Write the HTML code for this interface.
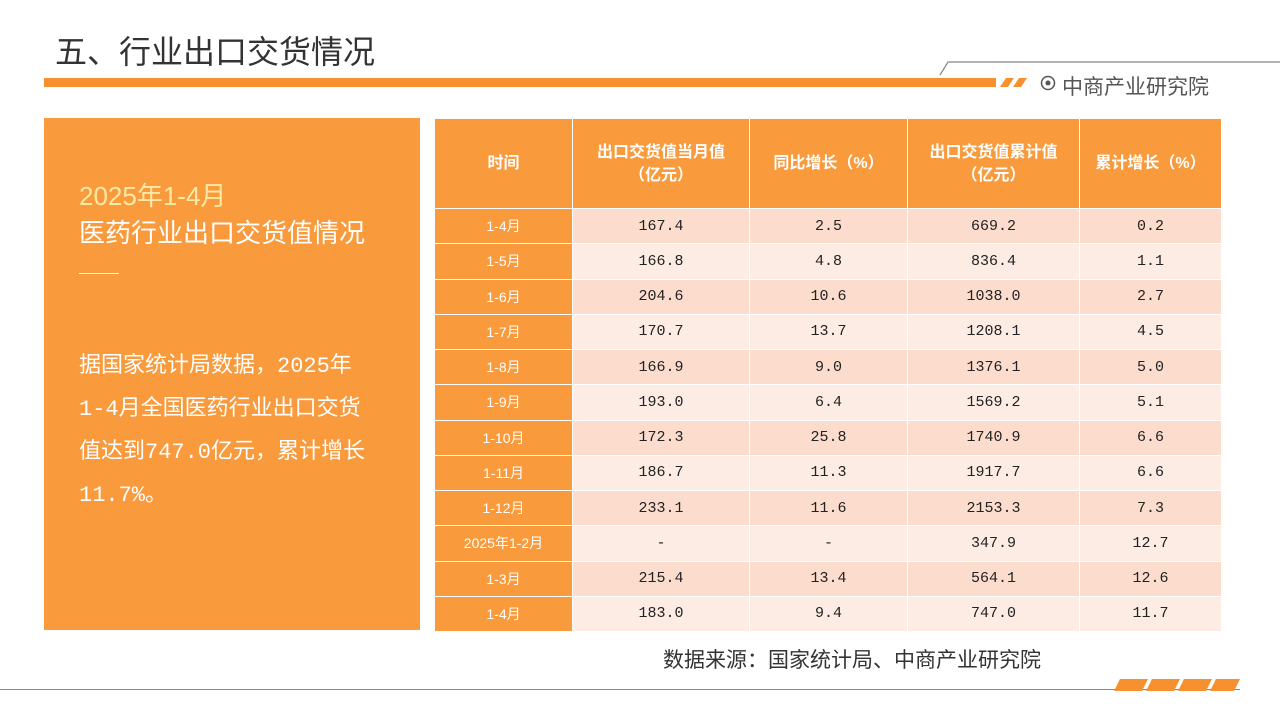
<!DOCTYPE html>
<html><head><meta charset="utf-8"><style>
*{margin:0;padding:0;box-sizing:border-box}
body{width:1280px;height:720px;background:#fff;position:relative;overflow:hidden;font-family:"Liberation Sans","Noto Sans CJK SC",sans-serif}
.abs{position:absolute}
.mono{font-family:"Liberation Mono","Noto Sans CJK SC",monospace}
#tbl{position:absolute;left:434px;top:118px;width:787px;border-collapse:collapse;table-layout:fixed}
#tbl td,#tbl th{border:1px solid #fff;text-align:center;font-size:15px;color:#222;padding:0}
#tbl td{font-family:"Liberation Mono","Noto Sans CJK SC",monospace}
#tbl th{background:#f99a3c;color:#fff;font-weight:bold;height:90px;line-height:23px;font-size:16px}
#tbl td.t{background:#f99a3c;color:#fff;font-size:14px;font-family:"Liberation Sans","Noto Sans CJK SC",sans-serif}
#tbl tr.d td{background:#fcdccd}
#tbl tr.l td{background:#fdece4}
#tbl tr td.t{background:#f99a3c}
#tbl td{height:35.25px}
</style></head><body>
<div class="abs" style="left:55px;top:27px;font-size:32px;color:#333">五、行业出口交货情况</div>
<div class="abs" style="left:44px;top:78px;width:952px;height:9px;background:#f7902f"></div>
<svg class="abs" style="left:0;top:0" width="1280" height="100">
<polyline points="940,75 948,62 1280,62" fill="none" stroke="#888" stroke-width="1.2"/>
<polygon points="1000,87 1006,78 1014,78 1008,87" fill="#f7902f"/>
<polygon points="1013,87 1019,78 1027,78 1021,87" fill="#f7902f"/>
<circle cx="1048" cy="83" r="6.5" fill="none" stroke="#555" stroke-width="1.5"/><circle cx="1048" cy="83" r="2.5" fill="#555"/>
</svg>
<div class="abs" style="left:1062px;top:71px;font-size:21px;color:#555">中商产业研究院</div>
<div class="abs" style="left:44px;top:118px;width:376px;height:512px;background:#f99a3c">
<div class="abs" style="left:35px;top:58px;font-size:26px;color:#fde9a6">2025年1-4月</div>
<div class="abs" style="left:35px;top:95px;font-size:26px;color:#fff">医药行业出口交货值情况</div>
<div class="abs" style="left:35px;top:155px;width:40px;height:1px;background:#fff"></div>
<div class="abs mono" style="left:35px;top:227px;width:340px;font-size:22px;line-height:43px;color:#fff;white-space:nowrap">据国家统计局数据，2025年<br>1-4月全国医药行业出口交货<br>值达到747.0亿元，累计增长<br>11.7%。</div>
</div>
<table id="tbl">
<colgroup><col style="width:138px"><col style="width:177px"><col style="width:158px"><col style="width:172px"><col style="width:142px"></colgroup>
<thead><tr><th>时间</th><th>出口交货值当月值<br>（亿元）</th><th>同比增长（%）</th><th>出口交货值累计值<br>（亿元）</th><th>累计增长（%）</th></tr></thead>
<tbody id="tb"></tbody></table>
<div class="abs" style="left:663px;top:644px;font-size:21px;color:#333">数据来源：国家统计局、中商产业研究院</div>
<div class="abs" style="left:0;top:689px;width:1240px;height:1px;background:#888"></div>
<svg class="abs" style="left:1110px;top:678px" width="140" height="14">
<polygon points="4,13 10,1 38,1 32,13" fill="#f7902f"/><polygon points="36,13 42,1 70,1 64,13" fill="#f7902f"/><polygon points="68,13 74,1 102,1 96,13" fill="#f7902f"/><polygon points="100,13 106,1 130,1 124,13" fill="#f7902f"/>
</svg>
<script>
const periods=["1-4月","1-5月","1-6月","1-7月","1-8月","1-9月","1-10月","1-11月","1-12月","2025年1-2月","1-3月","1-4月"];
const monthly=["167.4","166.8","204.6","170.7","166.9","193.0","172.3","186.7","233.1","-","215.4","183.0"];
const yoy=["2.5","4.8","10.6","13.7","9.0","6.4","25.8","11.3","11.6","-","13.4","9.4"];
const cumulative=["669.2","836.4","1038.0","1208.1","1376.1","1569.2","1740.9","1917.7","2153.3","347.9","564.1","747.0"];
const cumGrowth=["0.2","1.1","2.7","4.5","5.0","5.1","6.6","6.6","7.3","12.7","12.6","11.7"];
const tb=document.getElementById('tb');
periods.forEach((p,i)=>{
  const tr=document.createElement('tr');
  tr.className=i%2?'l':'d';
  
  
  [p,monthly[i],yoy[i],cumulative[i],cumGrowth[i]].forEach((v,j)=>{
    const td=document.createElement('td');
    if(j===0)td.className='t';
    td.textContent=v;
    
    
    tr.appendChild(td);
  });
  tb.appendChild(tr);
});
</script>
</body></html>
